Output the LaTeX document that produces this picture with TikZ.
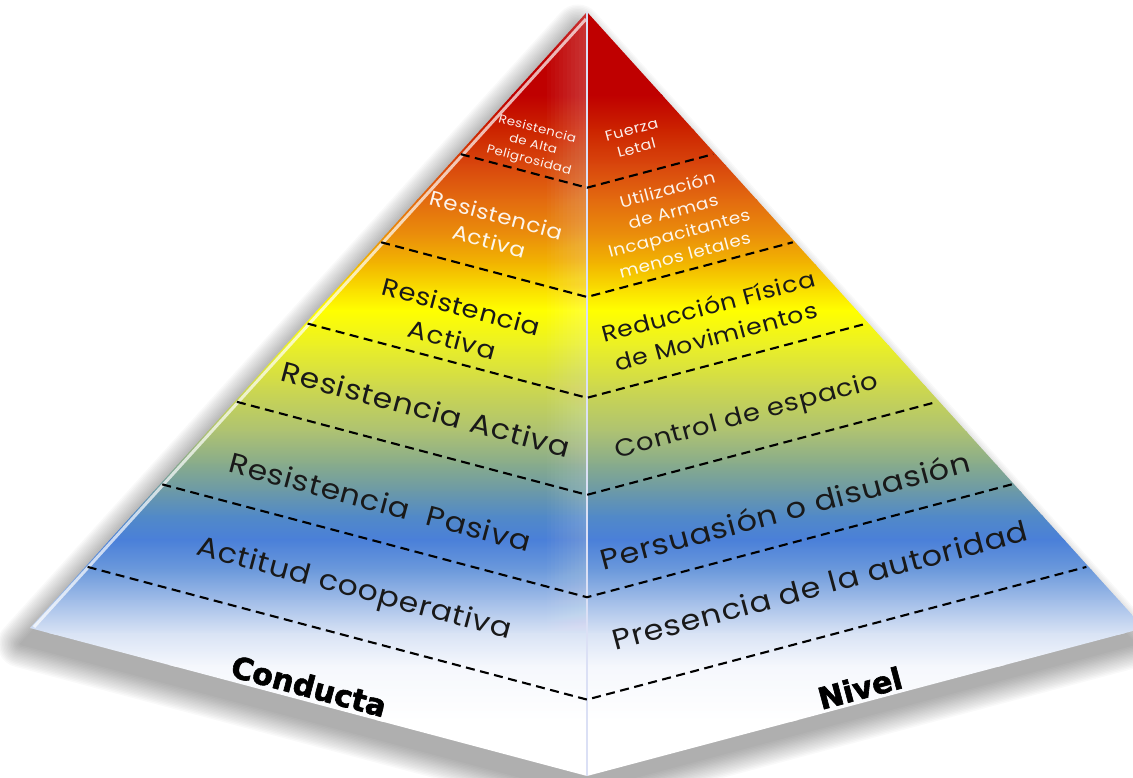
\documentclass[tikz,border=0pt]{standalone}
\usepackage{fontspec}
\usepackage{tikz}
\usetikzlibrary{calc}
\usepackage{xcolor}
\setmainfont{Poppins}[FakeStretch=1.12, LetterSpace=3]
\newfontfamily\negrita{DejaVu Sans Bold}[FakeBold=2]
\definecolor{arista}{rgb}{0.86,0.88,0.96}
\definecolor{f0}{rgb}{0.75,0,0}
\definecolor{f1}{rgb}{0.75,0,0}
\definecolor{f2}{rgb}{0.80,0.14,0}
\definecolor{f3}{rgb}{0.85,0.28,0.05}
\definecolor{f4}{rgb}{0.89,0.42,0.06}
\definecolor{f5}{rgb}{0.92,0.56,0.04}
\definecolor{f6}{rgb}{0.95,0.72,0}
\definecolor{f7}{rgb}{0.98,0.88,0}
\definecolor{f8}{rgb}{1,1,0}
\definecolor{f9}{rgb}{0.92,0.94,0.15}
\definecolor{f10}{rgb}{0.81,0.85,0.30}
\definecolor{f11}{rgb}{0.68,0.76,0.45}
\definecolor{f12}{rgb}{0.53,0.67,0.55}
\definecolor{f13}{rgb}{0.42,0.60,0.66}
\definecolor{f14}{rgb}{0.32,0.54,0.78}
\definecolor{f15}{rgb}{0.29,0.50,0.85}
\definecolor{f16}{rgb}{0.42,0.60,0.86}
\definecolor{f17}{rgb}{0.63,0.74,0.91}
\definecolor{f18}{rgb}{0.85,0.89,0.96}
\definecolor{f19}{rgb}{0.96,0.97,0.99}
\definecolor{f20}{rgb}{1,1,1}
\def\Tam#1#2{\fontsize{#1}{#2}\selectfont}
\def\Corte#1{%
	\draw[corte] ($(Apice)!#1!(Izq)$) -- ($(Apice)!#1!(Base)$) -- ($(Apice)!#1!(Der)$);
}
\def\Conducta#1#2#3#4{%
	\node[#2, rotate=-15] (#1) at (#3) {#4};
}
\def\Nivel#1#2#3#4{%
	\node[#2, rotate=15] (#1) at (#3) {#4};
}
\begin{document}
\begin{tikzpicture}[x=1pt, y=-1pt,
	texto/.style={align=center, inner sep=0pt, text=black!90},
	claro/.style={texto, text=white, text opacity=.92},
	titulo/.style={inner sep=0pt, font=\negrita\Tam{30}{35}},
	corte/.style={draw=black, line width=2.1pt, dash pattern=on 9pt off 5.5pt,
		shorten <=2pt, shorten >=2pt}]
\useasboundingbox (0,0) rectangle (1133,778);
\clip (0,0) rectangle (1133,778);
\coordinate (Apice) at (587,12);
\coordinate (Izq) at (30,628);
\coordinate (Base) at (587,776);
\coordinate (Der) at (1144,628);
\begin{scope}[transform canvas={shift={(-9,16)}}]
	\foreach \w in {2,5,...,47}{
		\begin{scope}[transparency group, opacity=.022]
			\filldraw[black, line width=\w pt, line join=round] (Apice) -- (Izq) -- (Base) -- (Der) -- cycle;
		\end{scope}
	}
\end{scope}
\begin{scope}
	\clip (Apice) -- (Izq) -- (Base) -- (Der) -- cycle;
	\foreach \a/\ya/\b/\yb in {f0/0/f1/95, f1/95/f2/130, f2/130/f3/165, f3/165/f4/200,
		f4/200/f5/235, f5/235/f6/265, f6/265/f7/290, f7/290/f8/310, f8/310/f9/345,
		f9/345/f10/385, f10/385/f11/431, f11/431/f12/464, f12/464/f13/491,
		f13/491/f14/515, f14/515/f15/539, f15/539/f16/569, f16/569/f17/600,
		f17/600/f18/633, f18/633/f19/665, f19/665/f20/720, f20/720/f20/800}
	\shade[top color=\a, bottom color=\b] (0,\ya) rectangle (1144,\yb+1);
\end{scope}
\begin{scope}
	\clip (Apice) -- (Izq) -- (Base) -- cycle;
	\foreach \i in {1,...,10}
	\fill[white, opacity=.022] (587-4*\i,0) rectangle (587,778);
\end{scope}
\draw[white, opacity=.7, line width=3pt] ($(Izq)+(4,-1)$) -- ($(Apice)+(-1,7)$);
\draw[arista, line width=2.5pt] (Apice) -- (Base);
\foreach \t in {0.230,0.373,0.505,0.632,0.766,0.900}{
	\Corte{\t}
}
\Conducta{c1}{claro, font=\Tam{12}{16}}{533,145}{Resistencia\\de Alta\\Peligrosidad}
\Conducta{c2}{claro, font=\Tam{20.5}{27}}{493,228}{Resistencia\\Activa}
\Conducta{c3}{texto, font=\Tam{24.5}{34}}{457,323}{Resistencia\\Activa}
\Conducta{c4}{texto, font=\Tam{28}{33}}{426,409}{Resistencia Activa}
\Conducta{c5}{texto, font=\Tam{28}{33}}{380,502}{Resistencia\ \ Pasiva}
\Conducta{c6}{texto, font=\Tam{28}{33}}{354,590}{Actitud cooperativa}
\Conducta{Conducta}{titulo}{309,686}{Conducta}
\Nivel{n1}{claro, font=\Tam{14.3}{19}}{634,139}{Fuerza\\Letal}
\Nivel{n2}{claro, font=\Tam{16.5}{22.5}}{676,222}{Utilización\\de Armas\\Incapacitantes\\menos letales}
\Nivel{n3}{texto, font=\Tam{22.5}{31}}{712,321}{Reducción Física\\de Movimientos}
\Nivel{n4}{texto, font=\Tam{24.5}{30}}{747,417}{Control de espacio}
\Nivel{n5}{texto, font=\Tam{28.5}{33}}{785,510}{Persuasión o disuasión}
\Nivel{n6}{texto, font=\Tam{28.5}{33}}{820,585}{Presencia de la autoridad}
\Nivel{Nivel}{titulo}{860,688}{Nivel}
\end{tikzpicture}
\end{document}
